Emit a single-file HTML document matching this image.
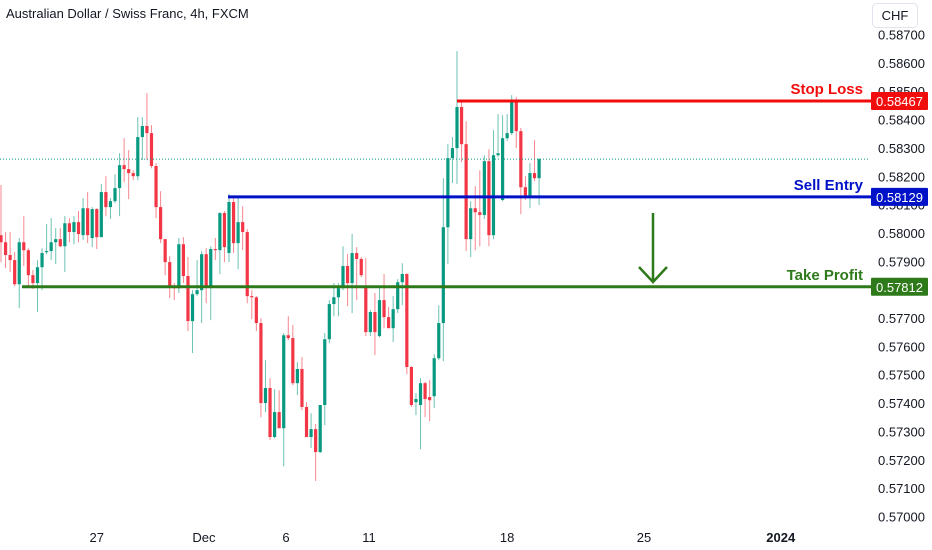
<!DOCTYPE html>
<html><head><meta charset="utf-8">
<style>
html,body{margin:0;padding:0;background:#fff;}
body{width:932px;height:550px;overflow:hidden;font-family:"Liberation Sans",sans-serif;}
svg{display:block;}
</style></head>
<body>
<svg id="chart" width="932" height="550" xmlns="http://www.w3.org/2000/svg">
  <text x="6" y="18" font-size="13" fill="#131722" font-family="Liberation Sans, sans-serif">Australian Dollar / Swiss Franc, 4h, FXCM</text>
  <rect x="872.5" y="3.5" width="45" height="24" rx="4" fill="#fff" stroke="#e0e3eb"/>
  <text x="895" y="20" font-size="13" fill="#131722" text-anchor="middle">CHF</text>
  <g id="candles"></g>
  <g id="yaxis"></g>
  <g id="xaxis"></g>
  <g id="levels"></g>
</svg>
<script>
// prices in units of 0.00001
const opens=[57994,57969,57924,57906,57821,57969,57941,57853,57825,57881,57934,57938,57969,57980,57955,58036,58005,58040,57994,58089,57984,58086,57987,58146,58093,58114,58160,58241,58227,58213,58202,58340,58379,58354,58238,58093,57980,57899,57811,57807,57962,57850,57691,57786,57800,57927,57811,57945,57941,58072,57931,58111,57966,58040,58005,57779,57775,57684,57402,57455,57282,57370,57313,57641,57631,57472,57522,57388,57282,57310,57229,57395,57627,57751,57775,57807,57885,57825,57931,57910,57814,57652,57723,57638,57765,57705,57666,57733,57828,57857,57529,57405,57395,57472,57423,57426,57560,57684,58022,58266,58301,58446,58315,57980,58089,58075,58065,58255,57994,58276,58118,58336,58354,58470,58361,58163,58128,58213,58195];
const closes=[57969,57924,57906,57821,57969,57941,57853,57825,57881,57931,57938,57969,57980,57955,58036,58005,58040,57998,58089,57994,58086,57987,58146,58093,58114,58160,58241,58227,58213,58202,58340,58379,58354,58238,58093,57980,57899,57811,57807,57962,57850,57691,57786,57800,57927,57811,57945,57941,58072,57952,58111,57966,58040,58005,57779,57775,57684,57402,57455,57282,57370,57313,57641,57631,57472,57522,57388,57282,57310,57229,57395,57627,57751,57775,57807,57885,57825,57931,57910,57853,57652,57723,57652,57765,57705,57666,57733,57828,57857,57529,57395,57416,57472,57416,57412,57560,57684,58022,58266,58301,58446,58315,57980,58089,58075,58065,58255,57994,58276,58283,58336,58354,58470,58361,58163,58128,58213,58195,58262];
const highs=[58171,58005,58005,57934,57984,58061,57948,57871,57906,57948,58033,58054,58019,58019,58061,58054,58061,58079,58125,58146,58093,58089,58174,58202,58125,58209,58283,58336,58294,58223,58410,58410,58495,58382,58248,58149,57980,57920,57825,57984,57987,57917,57800,57906,57938,57948,57955,57984,58075,58079,58139,58132,58132,58096,58015,57800,57779,57701,57553,57490,57451,57447,57649,57708,57677,57546,57564,57405,57366,57328,57395,57649,57765,57825,57825,57955,57927,57998,57952,57917,57913,57730,57790,57811,57857,57740,57779,57839,57895,57860,57532,57437,57490,57476,57483,57574,57747,58195,58315,58340,58643,58467,58396,58114,58167,58223,58276,58297,58364,58421,58417,58421,58488,58481,58372,58202,58248,58329,58266];
const lows=[57899,57878,57864,57814,57737,57885,57814,57804,57723,57800,57927,57906,57892,57952,57864,57969,57962,57969,57977,57966,57952,57945,57987,58061,58051,58107,58061,58181,58121,58188,58188,58259,58259,58230,58054,57966,57853,57772,57765,57790,57825,57656,57578,57779,57684,57754,57694,57906,57857,57899,57899,57931,57874,57941,57754,57698,57656,57352,57370,57271,57278,57313,57179,57624,57465,57430,57377,57282,57243,57127,57225,57324,57613,57708,57708,57800,57744,57719,57765,57846,57638,57638,57571,57634,57666,57666,57617,57719,57747,57504,57388,57359,57239,57352,57338,57384,57553,57550,57892,58178,58174,58252,57938,57917,57941,57955,58051,57955,57980,58269,58114,58326,58347,58301,58068,58118,58089,58185,58100];
const priceTicks=[58700,58600,58500,58400,58300,58200,58100,58000,57900,57800,57700,57600,57500,57400,57300,57200,57100,57000];
const dateLabels=["27","Dec","6","11","18","25","2024"];
const dateIndex=[21,44.5,62.5,80.7,111,141,171];
const stopLoss=58467, sellEntry=58129, takeProfit=57812, lastPrice=58262;

const NS="http://www.w3.org/2000/svg";
function yS(v){return 35+(58700-v)*0.28353;}
function xS(i){return 1+i*4.56;}
function mk(tag,attrs,parent){const e=document.createElementNS(NS,tag);for(const k in attrs)e.setAttribute(k,attrs[k]);parent.appendChild(e);return e;}

const cg=document.getElementById('candles');
for(let i=0;i<opens.length;i++){
  const up=closes[i]>=opens[i];
  const col=up?'#089981':'#f23645';
  const x=xS(i);
  const w=mk('line',{x1:x,x2:x,y1:yS(highs[i]),y2:yS(lows[i]),stroke:col,'stroke-width':1,'stroke-opacity':0.6},cg);
  
  
  const top=yS(Math.max(opens[i],closes[i])),bot=yS(Math.min(opens[i],closes[i]));
  const b=mk('rect',{x:x-1.6,y:top,width:3.2,height:Math.max(1,bot-top),fill:col},cg);
  
  
}
const ya=document.getElementById('yaxis');
priceTicks.forEach(v=>{
  const t=mk('text',{x:878,y:yS(v)+4.5,'font-size':13,fill:'#131722'},ya);
  t.textContent=(v/100000).toFixed(5);
  
  
});
const xa=document.getElementById('xaxis');
dateLabels.forEach((d,k)=>{
  const t=mk('text',{x:xS(dateIndex[k]),y:542,'font-size':13,fill:'#131722','text-anchor':'middle','font-weight':d==='2024'?'bold':'normal'},xa);
  t.textContent=d;
  
  
});
const lv=document.getElementById('levels');
const dl=mk('line',{x1:0,x2:870,y1:yS(lastPrice),y2:yS(lastPrice),stroke:'#089981','stroke-width':1,'stroke-dasharray':'1 2'},lv);


function level(v,x1,col,label,name){
  const y=yS(v);
  const l=mk('line',{x1:x1,x2:871,y1:y,y2:y,stroke:col,'stroke-width':3},lv);
  
  
  const r=mk('rect',{x:871,y:y-9,width:57,height:18,fill:col,rx:1},lv);
  
  
  const t=mk('text',{x:899.5,y:y+5,'font-size':13,fill:'#fff','text-anchor':'middle'},lv);
  t.textContent=(v/100000).toFixed(5);
  
  
  const n=mk('text',{x:863,y:y-7,'font-size':15,'font-weight':'bold',fill:col,'text-anchor':'end'},lv);
  n.textContent=label;
  
  
}
level(stopLoss,457,'#f20d0d','Stop Loss','stop-loss');
level(sellEntry,228,'#0011c8','Sell Entry','sell-entry');
level(takeProfit,22,'#2e7a1a','Take Profit','take-profit');
const arrow=mk('path',{d:'M653 213 L653 282 M639 267 L653 282 L667 267',stroke:'#2e7a1a','stroke-width':2.5,fill:'none'},lv);


</script>
</body></html>
